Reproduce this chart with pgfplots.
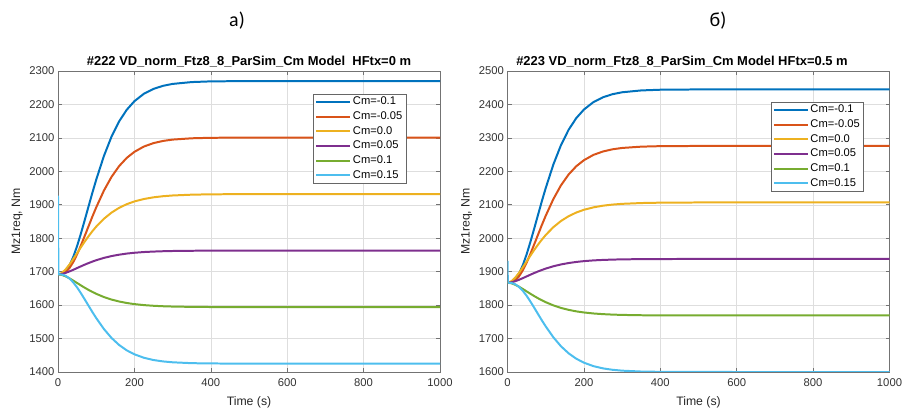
\documentclass[border=0pt]{standalone}
\usepackage{fontspec}
\setmainfont{Liberation Sans}
\newfontfamily\carlito{Carlito}
\usepackage{pgfplots}
\pgfplotsset{compat=1.18}
\usepackage{pgfplotstable}

\definecolor{mblue}{rgb}{0,0.447,0.741}
\definecolor{morange}{rgb}{0.85,0.325,0.098}
\definecolor{myellow}{rgb}{0.929,0.694,0.125}
\definecolor{mpurple}{rgb}{0.494,0.184,0.556}
\definecolor{mgreen}{rgb}{0.466,0.674,0.188}
\definecolor{mcyan}{rgb}{0.301,0.745,0.933}

\pgfplotstableread{
t a b c d e f
0 1692 1692 1692 1692 1692 1927
1 1692 1692 1692 1692 1692 1692
10 1693.4 1693.0 1696.2 1693.2 1690.3 1691.3
20 1701.5 1698.7 1706.8 1696.4 1686.0 1687.6
30 1718.5 1710.8 1721.3 1700.7 1680.1 1679.7
40 1744.2 1728.9 1737.9 1705.6 1673.3 1667.9
50 1776.6 1751.9 1755.4 1710.8 1666.1 1652.9
60 1814.1 1778.4 1773.0 1716.0 1658.9 1635.6
70 1854.2 1806.8 1790.0 1721.0 1652.0 1617.1
80 1895.3 1835.9 1806.0 1725.7 1645.4 1598.1
90 1936.0 1864.7 1820.9 1730.1 1639.4 1579.3
100 1974.8 1892.1 1834.6 1734.2 1633.8 1561.4
120 2045.3 1942.0 1858.0 1741.1 1624.2 1528.8
140 2103.5 1983.2 1876.5 1746.6 1616.6 1501.9
160 2149.3 2015.6 1890.9 1750.8 1610.8 1480.8
180 2184.1 2040.2 1901.8 1754.1 1606.3 1464.7
200 2209.7 2058.3 1910.0 1756.5 1603.0 1452.9
225 2232.1 2074.2 1917.3 1758.7 1600.0 1442.5
250 2246.5 2084.4 1922.3 1760.1 1598.0 1435.8
275 2255.7 2090.9 1925.6 1761.1 1596.6 1431.6
300 2261.4 2094.9 1927.8 1761.8 1595.7 1429.0
350 2266.9 2098.8 1930.2 1762.5 1594.7 1426.4
400 2269.0 2100.3 1931.3 1762.8 1594.3 1425.5
500 2269.9 2100.9 1931.9 1763.0 1594.0 1425.1
600 2270 2101 1932 1763 1594 1425
800 2270 2101 1932 1763 1594 1425
1000 2270 2101 1932 1763 1594 1425
}\leftdata

\pgfplotstableread{
t a b c d e f
0 1867 1867 1867 1867 1867 1932
1 1867 1867 1867 1867 1867 1867
10 1868.4 1868.0 1871.2 1868.2 1865.3 1866.3
20 1876.5 1873.7 1881.8 1871.4 1861.0 1862.6
30 1893.5 1885.8 1896.3 1875.7 1855.1 1854.7
40 1919.2 1903.9 1912.9 1880.6 1848.3 1842.9
50 1951.6 1926.9 1930.4 1885.8 1841.1 1827.9
60 1989.1 1953.4 1948.0 1891.0 1833.9 1810.6
70 2029.2 1981.8 1965.0 1896.0 1827.0 1792.1
80 2070.3 2010.9 1981.0 1900.7 1820.4 1773.1
90 2111.0 2039.7 1995.9 1905.1 1814.4 1754.3
100 2149.8 2067.1 2009.6 1909.2 1808.8 1736.4
120 2220.3 2117.0 2033.0 1916.1 1799.2 1703.8
140 2278.5 2158.2 2051.5 1921.6 1791.6 1676.9
160 2324.3 2190.6 2065.9 1925.8 1785.8 1655.8
180 2359.1 2215.2 2076.8 1929.1 1781.3 1639.7
200 2384.7 2233.3 2085.0 1931.5 1778.0 1627.9
225 2407.1 2249.2 2092.3 1933.7 1775.0 1617.5
250 2421.5 2259.4 2097.3 1935.1 1773.0 1610.8
275 2430.7 2265.9 2100.6 1936.1 1771.6 1606.6
300 2436.4 2269.9 2102.8 1936.8 1770.7 1604.0
350 2441.9 2273.8 2105.2 1937.5 1769.7 1601.4
400 2444.0 2275.3 2106.3 1937.8 1769.3 1600.5
500 2444.9 2275.9 2106.9 1938 1769 1600.1
600 2445 2276 2107 1938 1769 1600
800 2445 2276 2107 1938 1769 1600
1000 2445 2276 2107 1938 1769 1600
}\rightdata

\pgfplotsset{
  mystyle/.style={
    scale only axis, width=382bp, height=301bp,
    xmin=0, xmax=1000, xtick={0,200,...,1000},
    grid=major, grid style={color=black!13, line width=0.5pt},
    axis line style={color=black!55, line width=0.6pt},
    tick style={color=black!55, line width=0.6pt},
    tick align=inside, major tick length=4bp,
    ticklabel style={font=\fontsize{11.3}{13}\selectfont, color=black!80},
    xticklabel style={yshift=-3.5bp},
    xlabel style={yshift=-3bp},
    /pgf/number format/assume math mode=true,
    /pgf/number format/1000 sep={},
    xlabel={Time (s)}, ylabel={Mz1req, Nm},
    label style={font=\fontsize{12.3}{14}\selectfont, color=black!85},
    title style={font=\bfseries\fontsize{13}{15}\selectfont, inner sep=2bp, yshift=-4bp},
    every axis plot/.append style={line width=2pt, line join=round},
    legend cell align=left,
    legend style={draw=black!60, line width=0.5pt,
      font=\fontsize{11.2}{12}\selectfont, inner sep=2bp, row sep=3.5bp,
      nodes={inner xsep=1.5bp, inner ysep=0bp, text height=8.6bp, text depth=2.6bp}},
    legend image code/.code={\draw[##1, line width=2pt] (0bp,0bp) -- (34bp,0bp);},
  }
}

\begin{document}
\begin{tikzpicture}
\useasboundingbox (0,0) rectangle (904bp,412bp);
\node[font=\carlito\fontsize{20}{24}\selectfont] at (237bp,391bp) {а)};
\node[font=\carlito\fontsize{20}{24}\selectfont] at (718bp,391bp) {б)};

\begin{axis}[mystyle, at={(58bp,40bp)}, anchor=south west,
  ymin=1400, ymax=2300, ytick={1400,1500,...,2300},
  title={\#222 VD\_norm\_Ftz8\_8\_ParSim\_Cm Model~~HFtx=0 m},
  legend style={at={(0.911,0.9236)}, anchor=north east}]
\addplot[mblue] table[x=t,y=a]{\leftdata};
\addplot[morange] table[x=t,y=b]{\leftdata};
\addplot[myellow] table[x=t,y=c]{\leftdata};
\addplot[mpurple] table[x=t,y=d]{\leftdata};
\addplot[mgreen] table[x=t,y=e]{\leftdata};
\addplot[mcyan] table[x=t,y=f]{\leftdata};
\legend{Cm=-0.1,Cm=-0.05,Cm=0.0,Cm=0.05,Cm=0.1,Cm=0.15}
\end{axis}

\begin{axis}[mystyle, at={(507.5bp,40bp)}, anchor=south west,
  ymin=1600, ymax=2500, ytick={1600,1700,...,2500},
  title={\#223 VD\_norm\_Ftz8\_8\_ParSim\_Cm Model HFtx=0.5 m},
  title style={xshift=-16.5bp},
  legend style={at={(0.932,0.897)}, anchor=north east}]
\addplot[mblue] table[x=t,y=a]{\rightdata};
\addplot[morange] table[x=t,y=b]{\rightdata};
\addplot[myellow] table[x=t,y=c]{\rightdata};
\addplot[mpurple] table[x=t,y=d]{\rightdata};
\addplot[mgreen] table[x=t,y=e]{\rightdata};
\addplot[mcyan] table[x=t,y=f]{\rightdata};
\legend{Cm=-0.1,Cm=-0.05,Cm=0.0,Cm=0.05,Cm=0.1,Cm=0.15}
\end{axis}
\end{tikzpicture}
\end{document}
